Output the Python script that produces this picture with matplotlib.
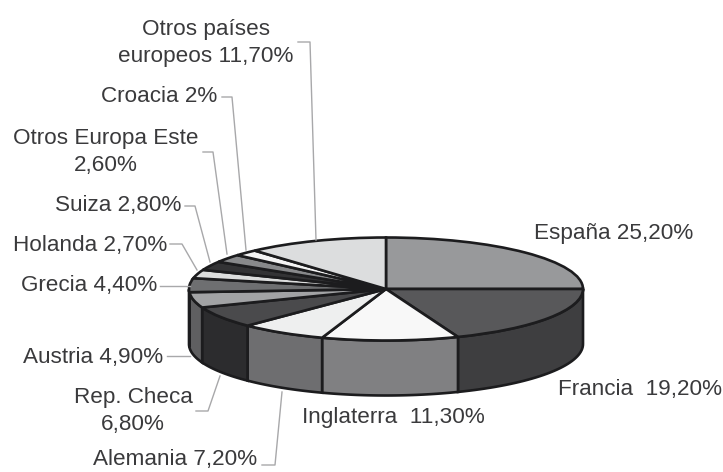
import matplotlib
matplotlib.use("Agg")
import matplotlib.pyplot as plt
import numpy as np

plt.rcParams['font.family'] = ['Liberation Sans', 'DejaVu Sans']

W, H = 723, 472

# clockwise from 12 o'clock
labels = ["España 25,20%", "Francia  19,20%", "Inglaterra  11,30%", "Alemania 7,20%",
          "Rep. Checa\n6,80%", "Austria 4,90%", "Grecia 4,40%", "Holanda 2,70%",
          "Suiza 2,80%", "Otros Europa Este\n2,60%", "Croacia 2%", "Otros países\neuropeos 11,70%"]
values = [25.2, 19.2, 11.3, 7.2, 6.8, 4.9, 4.4, 2.7, 2.8, 2.6, 2.0, 11.7]

top_colors = ["#98999b", "#58585a", "#f8f8f8", "#eeefef", "#4a4a4c", "#a2a3a5",
              "#6e6f71", "#dcdddd", "#333335", "#88898b", "#f4f4f4", "#dcddde"]
side_colors = ["#3e3e40", "#3e3e40", "#808082", "#6e6e70", "#2c2c2e", "#5f5f61",
               "#5f5f61", "#5f5f61", "#5f5f61", "#5f5f61", "#5f5f61", "#5f5f61"]

# label anchors in picture pixels: x, y, ha
label_pos = [(534, 233, "left"), (558, 389, "left"), (302, 418, "left"), (257, 459, "right"),
             (133, 411, "center"), (163, 357, "right"), (157, 286, "right"), (167, 246, "right"),
             (181, 206, "right"), (106, 152, "center"), (217, 97, "right"), (206, 43, "center")]
leaders = [None, None, None,
           [(262, 465), (275, 465), (282, 392)],
           [(196, 411), (208, 411), (220, 376)],
           [(167, 356), (190, 356)],
           [(160, 286), (190, 286)],
           [(170, 244), (182, 244), (197, 270)],
           [(185, 206), (195, 206), (210, 262)],
           [(203, 152), (213, 152), (227, 254)],
           [(222, 97), (232, 97), (246, 250)],
           [(298, 42), (310, 42), (316, 240)]]


def px_axes(fig, left, top, right, bottom):
    return fig.add_axes([left / W, 1 - bottom / H, (right - left) / W, (bottom - top) / H])


def main():
    fig = plt.figure(figsize=(W / 100, H / 100), dpi=100)

    cx, cy, rx, ry, depth = 386, 289, 197, 51.5, 55
    d = depth / ry

    # axes runs from the top of the ellipse down to the bottom of the wall
    ax = px_axes(fig, cx - rx, cy - ry, cx + rx, cy + ry + depth)
    ax.pie(values, colors=top_colors, startangle=90, counterclock=False, radius=1,
           wedgeprops={"edgecolor": "#1c1c1e", "linewidth": 1.9, "zorder": 3, "clip_on": False})
    ax.set_aspect("auto")
    ax.set_xlim(-1, 1)
    ax.set_ylim(-1 - d, 1)

    # outer wall, only the front half shows
    edges = 90 - np.cumsum([0] + values) / sum(values) * 360
    for i in range(len(values)):
        t = np.radians(np.linspace(edges[i + 1], edges[i], 40))
        t = t[np.sin(t) <= 0.0]
        if len(t) < 2:
            continue
        xs = np.r_[np.cos(t), np.cos(t[::-1])]
        ys = np.r_[np.sin(t), np.sin(t[::-1]) - d]
        ax.fill(xs, ys, facecolor=side_colors[i], edgecolor="#1c1c1e", linewidth=1.9,
                zorder=2, clip_on=False)

    # labels and leader lines in pixel coordinates
    over = px_axes(fig, 0, 0, W, H)
    over.set_xlim(0, W)
    over.set_ylim(H, 0)
    over.axis("off")
    over.patch.set_alpha(0)
    for i, lab in enumerate(labels):
        x, y, ha = label_pos[i]
        over.text(x, y, lab, ha=ha, va="center", fontsize=16.2, color="#3a3a3c",
                  linespacing=1.42, multialignment="center")
        if leaders[i]:
            pts = np.array(leaders[i])
            over.plot(pts[:, 0], pts[:, 1], color="#a8a8aa", lw=1)

    fig.savefig("out.png", dpi=100)


if __name__ == "__main__":
    main()
